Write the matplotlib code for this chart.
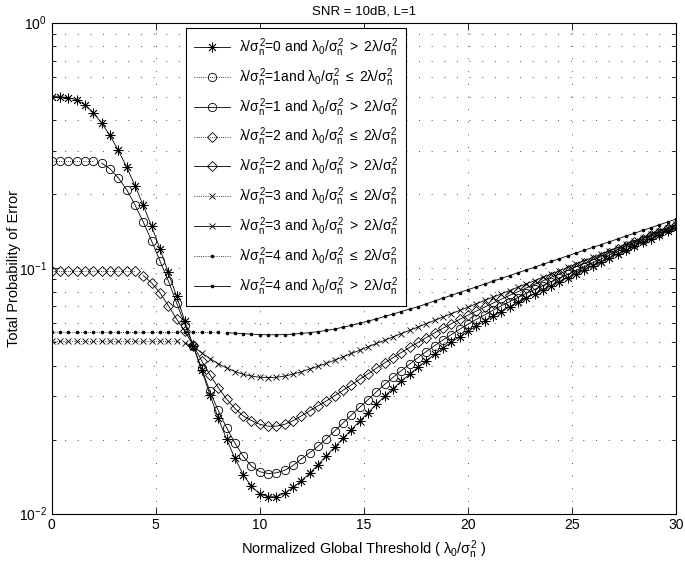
import numpy as np
import matplotlib
matplotlib.use('Agg')
import matplotlib.pyplot as plt
from matplotlib.ticker import LogLocator, NullFormatter

plt.rcParams['font.family'] = 'Liberation Sans'
plt.rcParams['mathtext.fontset'] = 'custom'
plt.rcParams['mathtext.rm'] = 'Liberation Sans'
plt.rcParams['mathtext.it'] = 'Liberation Sans'
plt.rcParams['mathtext.bf'] = 'Liberation Sans:bold'

# normalized global threshold, step 0.4
x = np.linspace(0, 30, 76)

# lambda/sigma^2 = 0, threshold > 2 lambda (whole range)
pe0_gt = [0.500, 0.499, 0.495, 0.485, 0.462, 0.430, 0.390, 0.347, 0.302, 0.258,
          0.217, 0.180, 0.148, 0.120, 0.096, 0.0768, 0.0607, 0.0481, 0.0385, 0.0305,
          0.0245, 0.0201, 0.0168, 0.0144, 0.0129, 0.0120, 0.0117, 0.0117, 0.0121, 0.0128,
          0.0136, 0.0146, 0.0158, 0.01718, 0.01866, 0.02028, 0.02198, 0.02382, 0.02576, 0.02786,
          0.03006, 0.03228, 0.03459, 0.03698, 0.03945, 0.04198, 0.04457, 0.04721, 0.04989, 0.05260,
          0.05534, 0.05808, 0.06081, 0.06368, 0.06653, 0.06950, 0.07244, 0.07551, 0.07852, 0.08166,
          0.08492, 0.08810, 0.09141, 0.09484, 0.09840, 0.1021, 0.1059, 0.1099, 0.1140, 0.1183,
          0.1227, 0.1274, 0.1318, 0.1365, 0.1413, 0.1462]

# lambda/sigma^2 = 1
pe1_le = [0.272, 0.272, 0.272, 0.272, 0.272, 0.272]
pe1_gt = [0.268, 0.254, 0.233, 0.209, 0.181, 0.154, 0.129, 0.107, 0.0889, 0.0722,
          0.0589, 0.0481, 0.0390, 0.0315, 0.0263, 0.0224, 0.0194, 0.0171, 0.0156, 0.0148,
          0.01455, 0.01465, 0.0150, 0.0157, 0.0167, 0.0177,
          0.0188, 0.0202, 0.0217, 0.0234, 0.0252, 0.0271, 0.0291, 0.0313, 0.0336, 0.03589,
          0.03819, 0.04064, 0.04315, 0.04571, 0.04831, 0.05093, 0.05358, 0.05636, 0.05902, 0.06180,
          0.06442, 0.06730, 0.07015, 0.07295, 0.07586, 0.07889, 0.08185, 0.08492, 0.08810, 0.09120,
          0.09441, 0.09795, 0.1014, 0.1052, 0.1089, 0.1130, 0.1169, 0.1211, 0.1256, 0.1300,
          0.1346, 0.1390, 0.1439, 0.1486]

# lambda/sigma^2 = 2
pe2_le = [0.097, 0.097, 0.097, 0.097, 0.097, 0.097, 0.097, 0.097, 0.097, 0.097, 0.097]
pe2_gt = [0.0932, 0.0871, 0.0793, 0.0704, 0.0621, 0.0553, 0.0485, 0.0420, 0.0368, 0.0326,
          0.0293, 0.0268, 0.0250, 0.0239, 0.0231, 0.0227, 0.0227, 0.0231, 0.0239, 0.0250,
          0.0262,
          0.0275, 0.02877, 0.03020, 0.03177, 0.03342, 0.03524, 0.03707, 0.03908, 0.04111, 0.04315,
          0.04529, 0.04753, 0.04977, 0.05212, 0.05445, 0.05689, 0.05929, 0.06180, 0.06427, 0.06683,
          0.06934, 0.07194, 0.07464, 0.07745, 0.08017, 0.08299, 0.08570, 0.08872, 0.09183, 0.09484,
          0.09795, 0.1012, 0.1045, 0.1079, 0.1114, 0.1153, 0.1191, 0.1233, 0.1274, 0.1318,
          0.1361, 0.1406, 0.1452, 0.1500]

# lambda/sigma^2 = 3
pe3_le = [0.0503, 0.0503, 0.0503, 0.0503, 0.0503, 0.0503, 0.0503, 0.0503,
          0.0503, 0.0503, 0.0503, 0.0503, 0.0503, 0.0503, 0.0503, 0.0503]
pe3_gt = [0.0496, 0.0479, 0.0452, 0.0428, 0.0408, 0.0392, 0.0379, 0.0369, 0.0363, 0.0359,
          0.0358, 0.0359, 0.0363, 0.0370, 0.0378, 0.0388,
          0.0398, 0.0409, 0.0422, 0.0435, 0.0449, 0.0463, 0.0478, 0.0493, 0.0508, 0.0524,
          0.0541, 0.0558, 0.0575, 0.0594, 0.0612, 0.0632, 0.0652, 0.0672, 0.0693, 0.0715,
          0.0738, 0.0761, 0.0785, 0.0810, 0.0836, 0.0862, 0.0889, 0.0918, 0.0946, 0.0976,
          0.1007, 0.1039, 0.1072, 0.1105, 0.1140, 0.1176, 0.1213, 0.1252, 0.1291, 0.1332,
          0.1374, 0.1417, 0.1462, 0.1508]

# lambda/sigma^2 = 4
pe4_le = [0.055, 0.055, 0.055, 0.055, 0.055, 0.055, 0.055, 0.055, 0.055, 0.055, 0.055,
          0.055, 0.055, 0.055, 0.055, 0.055, 0.055, 0.055, 0.055, 0.055, 0.055]
pe4_gt = [0.0546, 0.0543, 0.0541, 0.0538, 0.0536, 0.0535, 0.0535, 0.0536, 0.0538, 0.0542,
          0.0546,
          0.0551, 0.05572, 0.05649, 0.05741, 0.05848, 0.05957, 0.06081, 0.06209, 0.06353, 0.06501,
          0.06653, 0.06808, 0.06966, 0.07152, 0.07345, 0.07542, 0.07745, 0.07952, 0.08166, 0.08385,
          0.08610, 0.08841, 0.09078, 0.09322, 0.09572, 0.09829, 0.1009, 0.1036, 0.1064, 0.1093,
          0.1122, 0.1152, 0.1183, 0.1215, 0.1247, 0.1281, 0.1315, 0.1351, 0.1387, 0.1424,
          0.1462, 0.1501, 0.1542, 0.1583]

lam = r'$\lambda/\sigma_n^2$'
cond_le = r' $\lambda_0/\sigma_n^2\ \leq\ 2\lambda/\sigma_n^2$'
cond_gt = r' $\lambda_0/\sigma_n^2\ >\ 2\lambda/\sigma_n^2$'

asterisk = (8, 2, 0)
series = [
    (x, pe0_gt, '-', asterisk, 7, lam + '=0 and' + cond_gt),
    (x[:6], pe1_le, ':', 'o', 6, lam + '=1and' + cond_le),
    (x[6:], pe1_gt, '-', 'o', 6, lam + '=1 and' + cond_gt),
    (x[:11], pe2_le, ':', 'D', 4.6, lam + '=2 and' + cond_le),
    (x[11:], pe2_gt, '-', 'D', 4.6, lam + '=2 and' + cond_gt),
    (x[:16], pe3_le, ':', 'x', 5, lam + '=3 and' + cond_le),
    (x[16:], pe3_gt, '-', 'x', 5, lam + '=3 and' + cond_gt),
    (x[:21], pe4_le, ':', '.', 4, lam + '=4 and' + cond_le),
    (x[21:], pe4_gt, '-', '.', 4, lam + '=4 and' + cond_gt),
]

fig = plt.figure(figsize=(6.85, 5.63), dpi=100)
ax = fig.add_axes([0.0755, 0.0879, 0.9114, 0.8718])

for xs, ys, ls, mk, ms, label in series:
    face = 'black' if mk == '.' else 'none'
    ax.plot(xs, ys, linestyle=ls, marker=mk, markersize=ms, color='black',
            markerfacecolor=face, markeredgecolor='black', markeredgewidth=0.6,
            linewidth=0.6, label=label)

ax.set_yscale('log')
ax.set_xlim(0, 30)
ax.set_ylim(1e-2, 1)
ax.set_xticks([0, 5, 10, 15, 20, 25, 30])
ax.yaxis.set_major_locator(LogLocator(base=10, numticks=5))
ax.yaxis.set_minor_locator(LogLocator(base=10, subs=np.arange(2, 10), numticks=20))
ax.yaxis.set_minor_formatter(NullFormatter())

grid_style = dict(linestyle=(0, (1, 12)), linewidth=0.7, color='0.3')
ax.grid(True, which='major', **grid_style)
ax.grid(True, which='minor', axis='y', **grid_style)

ax.tick_params(which='both', direction='in', top=True, right=True, labelsize=10)
ax.tick_params(which='major', length=5, width=0.6)
ax.tick_params(which='minor', length=3, width=0.6)
for sp in ax.spines.values():
    sp.set_linewidth(0.8)

ax.set_title('SNR = 10dB, L=1', fontsize=9.5, pad=6)
ax.set_xlabel(r'Normalized Global Threshold ( $\lambda_0/\sigma_n^2$ )', fontsize=10.5)
ax.set_ylabel('Total Probability of Error', fontsize=10.5)
ax.yaxis.set_label_coords(-0.05, 0.5)

leg = ax.legend(loc='upper left', bbox_to_anchor=(0.215, 0.989), fontsize=10,
                fancybox=False, edgecolor='black', framealpha=1, borderaxespad=0,
                handlelength=2.6, handletextpad=0.6, labelspacing=0.52, borderpad=0.6)
leg.get_frame().set_linewidth(0.8)

fig.savefig('out.png', dpi=100)
